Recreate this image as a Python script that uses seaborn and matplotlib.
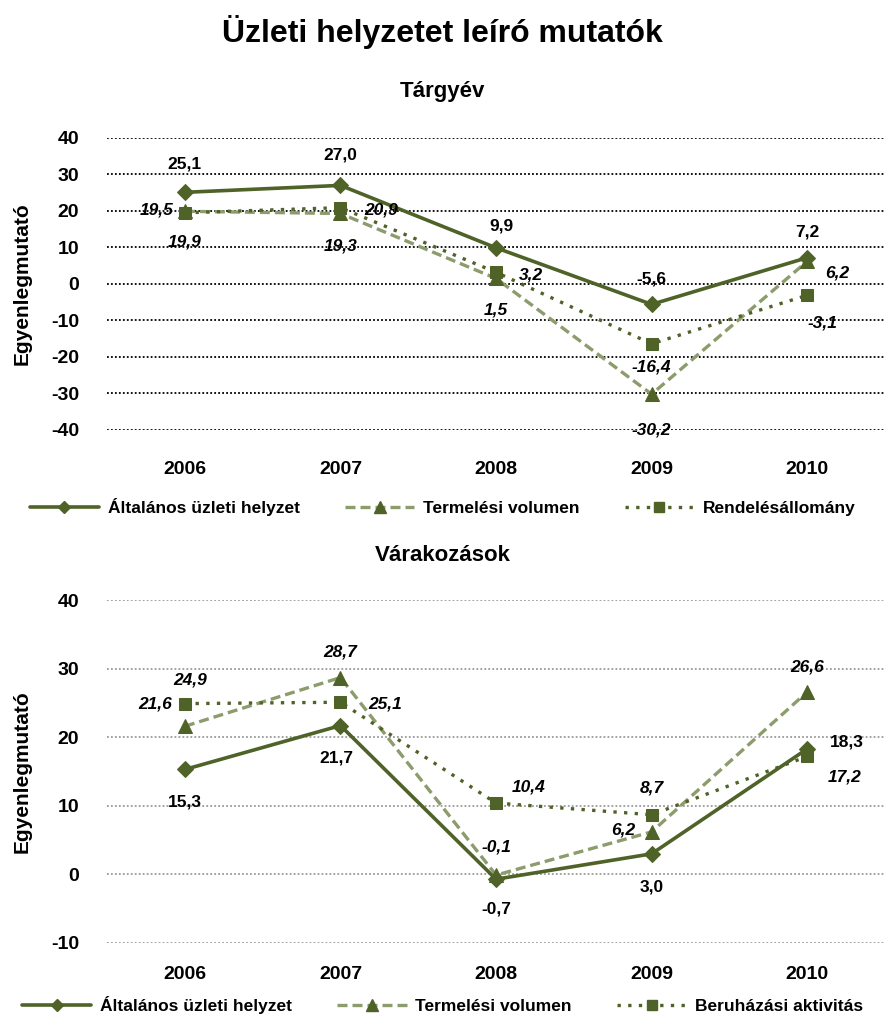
import matplotlib
matplotlib.use("Agg")
import matplotlib.pyplot as plt
import seaborn as sns
import pandas as pd
from matplotlib.lines import Line2D

years = ["2006", "2007", "2008", "2009", "2010"]

# Tárgyév
top_general = [25.1, 27.0, 9.9, -5.6, 7.2]
top_production = [19.9, 19.3, 1.5, -30.2, 6.2]
top_orders = [19.5, 20.9, 3.2, -16.4, -3.1]

# Várakozások
bot_general = [15.3, 21.7, -0.7, 3.0, 18.3]
bot_production = [21.6, 28.7, -0.1, 6.2, 26.6]
bot_investment = [24.9, 25.1, 10.4, 8.7, 17.2]

top_yticks = [-40, -30, -20, -10, 0, 10, 20, 30, 40]
bot_yticks = [-10, 0, 10, 20, 30, 40]

name_general = "Általános üzleti helyzet"
name_production = "Termelési volumen"
name_orders = "Rendelésállomány"
name_investment = "Beruházási aktivitás"

sns.set_style("white")
plt.rcParams['font.family'] = ['Liberation Sans', 'DejaVu Sans']
plt.rcParams['font.weight'] = 'bold'
plt.rcParams['text.color'] = 'black'
plt.rcParams['xtick.color'] = 'black'
plt.rcParams['ytick.color'] = 'black'
plt.rcParams['axes.labelcolor'] = 'black'

DARK = "#4F6228"
LIGHT = "#8C9C6C"

fig = plt.figure(figsize=(8.85, 10.21), dpi=100)
ax1 = fig.add_axes([0.121, 0.5789, 0.879, 0.2860])
ax2 = fig.add_axes([0.121, 0.0764, 0.879, 0.3359])

def fmt(v):
    return f"{v:.1f}".replace(".", ",")

def draw(ax, series, yticks, gridcolor, offsets, xpad):
    xs = list(range(len(years)))
    styles = [
        dict(color=DARK, linestyle="-", lw=2.6, marker="D", ms=8, mfc=DARK, mec=DARK),
        dict(color=LIGHT, linestyle=(0, (3, 1.5)), lw=2.4, marker="^", ms=10, mfc=DARK, mec=DARK),
        dict(color=DARK, linestyle=(0, (1, 2.2)), lw=2.4, marker="s", ms=9, mfc=DARK, mec=DARK),
    ]
    for i, (name, vals) in enumerate(series):
        st = styles[i]
        df = pd.DataFrame({"x": xs, "y": vals})
        sns.lineplot(data=df, x="x", y="y", ax=ax, color=st["color"], linestyle=st["linestyle"],
                     linewidth=st["lw"], marker=st["marker"], markersize=st["ms"],
                     markerfacecolor=st["mfc"], markeredgecolor=st["mec"], zorder=3 + i)
        for j, v in enumerate(vals):
            dx, dy = offsets[i][j]
            ax.annotate(fmt(v), (xs[j], v), xytext=(dx, dy), textcoords="offset pixels",
                        ha="center", va="center", fontsize=12.5, fontweight="bold",
                        fontstyle="normal" if i == 0 else "italic", color="black", zorder=10)
    ax.set_xlim(-0.5, len(years) - 0.5)
    ax.set_ylim(yticks[0], yticks[-1])
    ax.set_yticks(yticks)
    ax.set_yticklabels([str(t) for t in yticks], fontsize=14, fontweight="bold")
    ax.set_xticks(xs)
    ax.set_xticklabels(years, fontsize=14, fontweight="bold")
    ax.tick_params(axis="both", length=0)
    ax.tick_params(axis="x", pad=xpad)
    ax.tick_params(axis="y", pad=20)
    for t in yticks:
        ax.axhline(t, color=gridcolor, linestyle=(0, (1, 1.2)), lw=1.3, zorder=1)
    for s in ax.spines.values():
        s.set_visible(False)
    ax.set_xlabel("")
    ax.set_ylabel("Egyenlegmutató", fontsize=15, fontweight="bold")
    ax.yaxis.set_label_coords(-0.097, 0.5)
    ax.grid(False)

top_offsets = [
    [(0, 28), (0, 30), (5, 22), (0, 25), (0, 26)],
    [(0, -31), (0, -33), (0, -32), (0, -36), (30, -12)],
    [(-28, 3), (41, -2), (35, -3), (0, -23), (15, -28)],
]
bot_offsets = [
    [(0, -33), (-4, -32), (0, -30), (0, -33), (40, 7)],
    [(-30, 22), (0, 26), (0, 28), (-28, 2), (0, 25)],
    [(5, 24), (45, -2), (33, 16), (0, 27), (37, -21)],
]

draw(ax1, [(name_general, top_general), (name_production, top_production), (name_orders, top_orders)],
     top_yticks, "black", top_offsets, 22.5)
draw(ax2, [(name_general, bot_general), (name_production, bot_production), (name_investment, bot_investment)],
     bot_yticks, "#9A9A9A", bot_offsets, 16.5)

def handles(third):
    return [
        Line2D([], [], color=DARK, lw=2.6, marker="D", ms=6, mfc=DARK, mec=DARK, label=name_general),
        Line2D([], [], color=LIGHT, lw=2.4, linestyle=(0, (3, 1.5)), marker="^", ms=8, mfc=DARK, mec=DARK, label=name_production),
        Line2D([], [], color=DARK, lw=2.4, linestyle=(0, (1, 2.2)), marker="s", ms=7, mfc=DARK, mec=DARK, label=third),
    ]

for y, third in [(0.503, name_orders), (0.0157, name_investment)]:
    fig.legend(handles=handles(third), loc="center", bbox_to_anchor=(0.5, y), ncol=3, frameon=False,
               handlelength=4, columnspacing=2.6, handletextpad=0.5,
               prop={"weight": "bold", "size": 12.5})

fig.text(0.5, 1 - 32 / 1021, "Üzleti helyzetet leíró mutatók", ha="center", va="center",
         fontsize=23, fontweight="bold")
fig.text(0.5, 1 - 92 / 1021, "Tárgyév", ha="center", va="center", fontsize=16, fontweight="bold")
fig.text(0.5, 1 - 555 / 1021, "Várakozások", ha="center", va="center", fontsize=16, fontweight="bold")

fig.savefig("out.png", dpi=100)
